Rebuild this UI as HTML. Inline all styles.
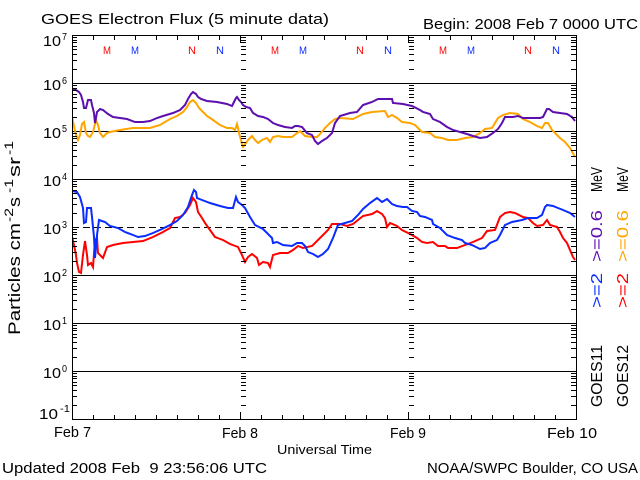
<!DOCTYPE html>
<html><head><meta charset="utf-8"><style>
html,body{margin:0;padding:0;background:#fff;}
svg{display:block;}
text{font-family:"Liberation Sans",sans-serif;fill:#000;}
</style></head><body>
<svg width="640" height="480" viewBox="0 0 640 480" xmlns="http://www.w3.org/2000/svg">
<defs>
<clipPath id="pc"><rect x="72" y="35" width="504" height="384"/></clipPath>
<path id="yt" stroke="#000" stroke-width="1" fill="none" d="M0 405.5h5M0 396.5h5M0 390.5h5M0 385.5h5M0 382.5h5M0 378.5h5M0 376.5h5M0 373.5h5M0 357.5h5M0 348.5h5M0 342.5h5M0 337.5h5M0 334.5h5M0 330.5h5M0 328.5h5M0 325.5h5M0 309.5h5M0 300.5h5M0 294.5h5M0 289.5h5M0 286.5h5M0 282.5h5M0 280.5h5M0 277.5h5M0 261.5h5M0 252.5h5M0 246.5h5M0 241.5h5M0 238.5h5M0 234.5h5M0 232.5h5M0 229.5h5M0 213.5h5M0 204.5h5M0 198.5h5M0 193.5h5M0 190.5h5M0 186.5h5M0 184.5h5M0 181.5h5M0 165.5h5M0 156.5h5M0 150.5h5M0 145.5h5M0 142.5h5M0 138.5h5M0 136.5h5M0 133.5h5M0 117.5h5M0 108.5h5M0 102.5h5M0 97.5h5M0 94.5h5M0 90.5h5M0 88.5h5M0 85.5h5M0 69.5h5M0 60.5h5M0 54.5h5M0 49.5h5M0 46.5h5M0 42.5h5M0 40.5h5M0 37.5h5"/>
</defs>

<!-- decade lines -->
<g stroke="#000" stroke-width="1" fill="none">
<path d="M72 83.5H576M72 131.5H576M72 179.5H576M72 275.5H576M72 323.5H576M72 371.5H576"/>
<path d="M72 227.5H576" stroke-dasharray="7 4"/>
</g>

<!-- data -->
<g clip-path="url(#pc)" fill="none" stroke-width="2" stroke-linejoin="miter">
<polyline stroke="#ffa500" points="72,117 74,126 76,135 78,140 80,135 82,124 84,122 86,133 88,136 90,137 93,132 96,120 98,125 100,133 103,137 107,133 110,132 120,130 133,128 150,128 160,125 170,119 177,116 183,112 187,107 190,102 193,100 196,103 199,108 203,112 207,116 213,120 220,125 227,128 232,128 235,130 237,124 238,128 239,133 241,140 242,145 243,147 246,143 248,140 252,136 255,140 258,143 262,140 267,138 270,142 273,137 278,136 283,137 292,137 297,133 300,131 305,136 312,137 317,137 320,134 325,128 330,123 335,119 340,118 353,119 357,117 363,114 372,112 385,111 388,117 392,115 397,118 402,122 410,123 415,125 420,130 422,132 430,133 435,137 442,138 448,140 457,140 465,138 473,137 480,133 485,129 492,128 495,123 498,118 503,115 510,113 518,114 523,119 530,122 537,126 542,128 545,123 548,123 552,130 555,133 560,138 565,142 570,148 575,157"/>
<polyline stroke="#5c0fae" points="72,89 76,90 79,92 81,95 83,102 84,108 86,108 88,100 91,100 92,105 94,113 95,123 96,118 97,112 100,109 103,110 108,114 113,117 120,118 127,119 135,122 143,122 150,121 157,118 163,116 173,113 180,110 185,105 188,99 191,94 193,92 196,94 198,97 201,99 207,101 217,102 227,104 232,106 234,102 236,98 237,97 239,100 241,102 243,105 246,107 250,108 253,113 258,116 263,117 268,119 273,123 278,125 285,127 292,128 295,126 298,126 302,127 307,133 312,135 315,141 318,144 322,141 327,138 332,133 335,123 340,116 350,113 357,112 363,105 372,102 378,99 392,99 393,103 403,104 412,106 420,110 423,112 430,114 433,119 440,122 447,127 453,130 460,132 467,134 473,136 480,138 487,137 493,133 498,129 502,123 505,117 513,117 518,116 523,118 540,118 543,117 547,109 549,109 553,112 560,113 567,114 572,117 575,121"/>
<polyline stroke="#ff0000" points="72,237 74,245 76,255 77,263 79,272 81,273 83,255 85,241 87,255 88,265 91,263 93,267 95,240 97,238 98,253 102,257 103,258 107,247 113,245 123,243 133,242 143,241 153,237 163,232 170,228 175,218 180,217 185,213 190,205 193,198 196,202 198,212 202,218 205,223 210,230 215,237 223,240 230,244 238,247 242,255 245,262 248,257 252,254 257,258 259,265 263,262 268,263 270,267 273,255 280,253 288,253 293,250 298,246 303,248 312,246 318,240 323,235 328,230 332,224 340,224 347,226 353,224 358,220 363,216 372,214 377,211 382,214 385,218 387,227 390,223 397,226 402,230 410,234 417,238 422,242 427,243 433,242 438,246 445,246 448,248 457,248 465,245 473,242 482,238 487,231 495,230 500,217 505,213 510,212 515,213 523,217 528,218 533,223 537,226 543,225 547,220 550,225 557,227 560,232 563,238 567,243 570,250 573,257 575,260"/>
<polyline stroke="#0a2cff" points="72,191 77,192 80,197 83,208 84,223 86,222 87,208 91,208 92,217 94,237 95,258 97,235 99,220 105,222 110,226 118,228 125,232 133,235 138,237 145,236 153,233 162,229 170,225 177,221 183,215 188,207 192,195 194,190 196,192 197,198 202,200 210,203 220,206 228,208 233,208 236,197 238,202 242,205 245,208 250,217 255,225 263,229 268,234 272,238 273,243 277,242 283,245 292,246 297,243 302,243 305,246 308,252 313,254 318,257 323,254 328,249 333,238 338,225 345,223 352,221 358,215 363,209 370,203 377,198 382,202 387,199 392,204 397,206 403,207 407,207 412,211 417,212 420,216 425,217 432,220 433,224 440,228 447,235 455,238 462,240 465,243 472,245 480,249 485,248 490,243 497,240 500,235 505,225 512,222 522,220 528,218 537,218 542,215 545,207 547,205 553,206 558,208 563,210 570,213 575,217"/>
</g>

<!-- axes box -->
<rect x="72.5" y="35.5" width="504" height="384" fill="none" stroke="#000" stroke-width="1"/>

<!-- y ticks -->
<use href="#yt" x="72"/>
<use href="#yt" x="241"/>
<use href="#yt" x="409"/>
<use href="#yt" x="571"/>

<!-- x ticks -->
<path stroke="#000" stroke-width="1" fill="none" d="M93.5 419v-4M114.5 419v-4M135.5 419v-4M156.5 419v-4M177.5 419v-4M198.5 419v-4M219.5 419v-4M261.5 419v-4M282.5 419v-4M303.5 419v-4M324.5 419v-4M345.5 419v-4M366.5 419v-4M387.5 419v-4M429.5 419v-4M450.5 419v-4M471.5 419v-4M492.5 419v-4M513.5 419v-4M534.5 419v-4M555.5 419v-4M240.5 419v-7M408.5 419v-7M93.5 36v4M114.5 36v4M135.5 36v4M156.5 36v4M177.5 36v4M198.5 36v4M219.5 36v4M261.5 36v4M282.5 36v4M303.5 36v4M324.5 36v4M345.5 36v4M366.5 36v4M387.5 36v4M429.5 36v4M450.5 36v4M471.5 36v4M492.5 36v4M513.5 36v4M534.5 36v4M555.5 36v4M240.5 36v7M408.5 36v7"/>

<!-- titles -->
<text x="41" y="24" font-size="15" textLength="288" lengthAdjust="spacingAndGlyphs">GOES Electron Flux (5 minute data)</text>
<text x="423" y="29" font-size="15" textLength="215" lengthAdjust="spacingAndGlyphs">Begin: 2008 Feb 7 0000 UTC</text>

<!-- M/N markers -->
<g font-size="11">
<text x="103" y="54" fill="#ff0000" style="fill:#ff0000" textLength="8" lengthAdjust="spacingAndGlyphs">M</text>
<text x="131" y="54" style="fill:#0a2cff" textLength="8" lengthAdjust="spacingAndGlyphs">M</text>
<text x="188" y="54" style="fill:#ff0000" textLength="8" lengthAdjust="spacingAndGlyphs">N</text>
<text x="216" y="54" style="fill:#0a2cff" textLength="8" lengthAdjust="spacingAndGlyphs">N</text>
<text x="271" y="54" style="fill:#ff0000" textLength="8" lengthAdjust="spacingAndGlyphs">M</text>
<text x="299" y="54" style="fill:#0a2cff" textLength="8" lengthAdjust="spacingAndGlyphs">M</text>
<text x="356" y="54" style="fill:#ff0000" textLength="8" lengthAdjust="spacingAndGlyphs">N</text>
<text x="384" y="54" style="fill:#0a2cff" textLength="8" lengthAdjust="spacingAndGlyphs">N</text>
<text x="439" y="54" style="fill:#ff0000" textLength="8" lengthAdjust="spacingAndGlyphs">M</text>
<text x="467" y="54" style="fill:#0a2cff" textLength="8" lengthAdjust="spacingAndGlyphs">M</text>
<text x="524" y="54" style="fill:#ff0000" textLength="8" lengthAdjust="spacingAndGlyphs">N</text>
<text x="552" y="54" style="fill:#0a2cff" textLength="8" lengthAdjust="spacingAndGlyphs">N</text>
</g>

<!-- y labels -->
<g>
<text x="43" y="46" font-size="15" textLength="18" lengthAdjust="spacingAndGlyphs">10</text><text x="62" y="40" font-size="10" textLength="5" lengthAdjust="spacingAndGlyphs">7</text>
<text x="43" y="90" font-size="15" textLength="18" lengthAdjust="spacingAndGlyphs">10</text><text x="62" y="84" font-size="10" textLength="5" lengthAdjust="spacingAndGlyphs">6</text>
<text x="43" y="138" font-size="15" textLength="18" lengthAdjust="spacingAndGlyphs">10</text><text x="62" y="132" font-size="10" textLength="5" lengthAdjust="spacingAndGlyphs">5</text>
<text x="43" y="186" font-size="15" textLength="18" lengthAdjust="spacingAndGlyphs">10</text><text x="62" y="180" font-size="10" textLength="5" lengthAdjust="spacingAndGlyphs">4</text>
<text x="43" y="234" font-size="15" textLength="18" lengthAdjust="spacingAndGlyphs">10</text><text x="62" y="228" font-size="10" textLength="5" lengthAdjust="spacingAndGlyphs">3</text>
<text x="43" y="282" font-size="15" textLength="18" lengthAdjust="spacingAndGlyphs">10</text><text x="62" y="276" font-size="10" textLength="5" lengthAdjust="spacingAndGlyphs">2</text>
<text x="43" y="330" font-size="15" textLength="18" lengthAdjust="spacingAndGlyphs">10</text><text x="62" y="324" font-size="10" textLength="5" lengthAdjust="spacingAndGlyphs">1</text>
<text x="43" y="378" font-size="15" textLength="18" lengthAdjust="spacingAndGlyphs">10</text><text x="62" y="372" font-size="10" textLength="5" lengthAdjust="spacingAndGlyphs">0</text>
<text x="39" y="419" font-size="15" textLength="19" lengthAdjust="spacingAndGlyphs">10</text><text x="60" y="412" font-size="10" textLength="10" lengthAdjust="spacingAndGlyphs">-1</text>
</g>

<!-- y axis title -->
<g font-size="17">
<text transform="translate(20,335) rotate(-90)" textLength="112" lengthAdjust="spacingAndGlyphs">Particles cm</text>
<text transform="translate(13,222) rotate(-90)" font-size="12" textLength="14" lengthAdjust="spacingAndGlyphs">-2</text>
<text transform="translate(20,207) rotate(-90)" textLength="10" lengthAdjust="spacingAndGlyphs">s</text>
<text transform="translate(13,193) rotate(-90)" font-size="12" textLength="14" lengthAdjust="spacingAndGlyphs">-1</text>
<text transform="translate(20,177) rotate(-90)" textLength="20" lengthAdjust="spacingAndGlyphs">sr</text>
<text transform="translate(13,155) rotate(-90)" font-size="12" textLength="14" lengthAdjust="spacingAndGlyphs">-1</text>
</g>

<!-- right legend -->
<g font-size="16">
<text transform="translate(602,407) rotate(-90)" textLength="62" lengthAdjust="spacingAndGlyphs">GOES11</text>
<text transform="translate(602,308) rotate(-90)" style="fill:#0a2cff" textLength="35" lengthAdjust="spacingAndGlyphs">&gt;=2</text>
<text transform="translate(602,262) rotate(-90)" style="fill:#5c0fae" textLength="52" lengthAdjust="spacingAndGlyphs">&gt;=0.6</text>
<text transform="translate(602,192) rotate(-90)" textLength="25" lengthAdjust="spacingAndGlyphs">MeV</text>
<text transform="translate(628,407) rotate(-90)" textLength="62" lengthAdjust="spacingAndGlyphs">GOES12</text>
<text transform="translate(628,308) rotate(-90)" style="fill:#ff0000" textLength="35" lengthAdjust="spacingAndGlyphs">&gt;=2</text>
<text transform="translate(628,262) rotate(-90)" style="fill:#ffa500" textLength="52" lengthAdjust="spacingAndGlyphs">&gt;=0.6</text>
<text transform="translate(628,192) rotate(-90)" textLength="25" lengthAdjust="spacingAndGlyphs">MeV</text>
</g>

<!-- x labels -->
<g font-size="15">
<text x="54" y="437" textLength="37" lengthAdjust="spacingAndGlyphs">Feb 7</text>
<text x="222" y="438" textLength="36" lengthAdjust="spacingAndGlyphs">Feb 8</text>
<text x="390" y="438" textLength="36" lengthAdjust="spacingAndGlyphs">Feb 9</text>
<text x="547" y="438" textLength="50" lengthAdjust="spacingAndGlyphs">Feb 10</text>
</g>
<text x="277" y="454" font-size="12.5" textLength="95" lengthAdjust="spacingAndGlyphs">Universal Time</text>
<text x="2" y="473" font-size="15" style="white-space:pre" textLength="265" lengthAdjust="spacingAndGlyphs">Updated 2008 Feb  9 23:56:06 UTC</text>
<text x="427" y="473" font-size="15" textLength="211" lengthAdjust="spacingAndGlyphs">NOAA/SWPC Boulder, CO USA</text>
</svg>
</body></html>
